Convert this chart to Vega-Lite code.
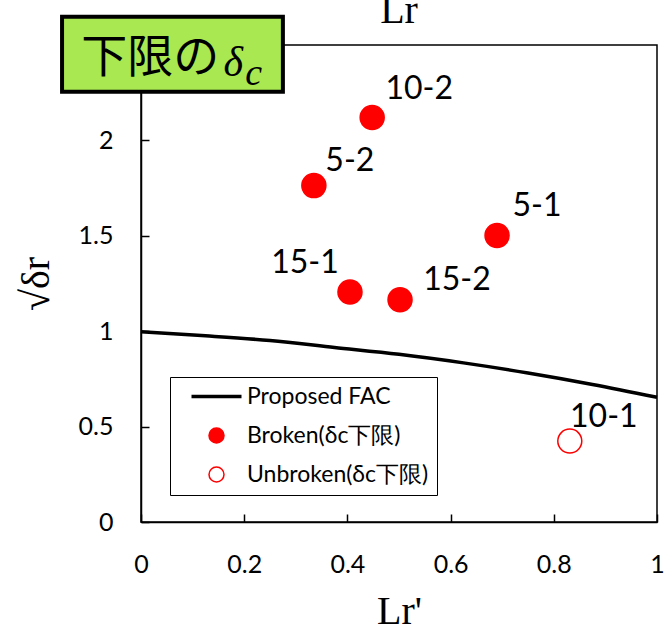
{
  "$schema": "https://vega.github.io/schema/vega-lite/v6.json",
  "width": 516,
  "height": 477,
  "autosize": {"type": "none"},
  "padding": {"left": 141, "top": 45, "right": 10, "bottom": 107},
  "background": "white",
  "title": {
    "text": "Lr",
    "font": "Liberation Serif",
    "fontSize": 40,
    "fontWeight": "normal",
    "color": "black",
    "anchor": "middle",
    "offset": -16
  },
  "config": {
    "view": {"stroke": "black", "strokeWidth": 1.5},
    "axis": {
      "domainColor": "black",
      "domainWidth": 1.5,
      "tickColor": "black",
      "tickWidth": 1.5,
      "tickSize": -8,
      "grid": false,
      "labelFont": "Lato",
      "labelFontSize": 25,
      "labelColor": "black",
      "labelFlush": false,
      "titleFont": "Liberation Serif",
      "titleFontSize": 40,
      "titleFontWeight": "normal",
      "titleColor": "black"
    },
    "legend": {
      "labelFont": "Lato",
      "labelFontSize": 23,
      "labelColor": "black",
      "labelLimit": 400
    }
  },
  "datasets": {
    "fac": [
      {"lr": 0.0, "kr": 0.997},
      {"lr": 0.125, "kr": 0.976},
      {"lr": 0.25, "kr": 0.951},
      {"lr": 0.375, "kr": 0.915},
      {"lr": 0.5, "kr": 0.879},
      {"lr": 0.625, "kr": 0.834},
      {"lr": 0.75, "kr": 0.781},
      {"lr": 0.875, "kr": 0.721},
      {"lr": 1.0, "kr": 0.654}
    ],
    "tests": [
      {"id": "10-2", "lr": 0.448, "kr": 2.12, "status": "Broken(δc下限)"},
      {"id": "5-2", "lr": 0.335, "kr": 1.763, "status": "Broken(δc下限)"},
      {"id": "5-1", "lr": 0.69, "kr": 1.502, "status": "Broken(δc下限)"},
      {"id": "15-1", "lr": 0.405, "kr": 1.206, "status": "Broken(δc下限)"},
      {"id": "15-2", "lr": 0.502, "kr": 1.165, "status": "Broken(δc下限)"},
      {"id": "10-1", "lr": 0.831, "kr": 0.424, "status": "Unbroken(δc下限)"}
    ]
  },
  "layer": [
    {
      "data": {"name": "fac"},
      "mark": {"type": "line", "strokeWidth": 3.5, "interpolate": "monotone"},
      "encoding": {
        "x": {
          "field": "lr", "type": "quantitative",
          "scale": {"domain": [0, 1], "nice": false},
          "axis": {"values": [0, 0.2, 0.4, 0.6, 0.8, 1], "title": "Lr'", "labelPadding": 38, "titlePadding": 14, "format": "~g"}
        },
        "y": {
          "field": "kr", "type": "quantitative",
          "scale": {"domain": [0, 2.5], "nice": false},
          "axis": {"values": [0, 0.5, 1, 1.5, 2], "title": "√δr", "labelPadding": 36, "titlePadding": 22, "format": "~g"}
        },
        "stroke": {
          "datum": "Proposed FAC",
          "scale": {
            "domain": ["Proposed FAC", "Broken(δc下限)", "Unbroken(δc下限)"],
            "range": ["black", "#ff0000", "#ff0000"]
          },
          "legend": {
            "title": null,
            "orient": "none",
            "legendX": 29,
            "legendY": 332,
            "padding": 8,
            "symbolOffset": 27,
            "rowPadding": 15,
            "labelOffset": 19,
            "strokeColor": "black",
            "fillColor": "white",
            "symbolSize": 2500,
            "encode": {
              "symbols": {
                "update": {
                  "shape": {"signal": "datum.value === 'Proposed FAC' ? 'stroke' : 'circle'"},
                  "size": {"signal": "datum.value === 'Proposed FAC' ? 2500 : 225"},
                  "fill": {"signal": "datum.value === 'Broken(δc下限)' ? '#ff0000' : datum.value === 'Unbroken(δc下限)' ? '#ffffff' : 'transparent'"},
                  "strokeWidth": {"signal": "datum.value === 'Proposed FAC' ? 3.5 : 1.5"}
                }
              }
            }
          }
        }
      }
    },
    {
      "data": {"name": "tests"},
      "mark": {"type": "point", "shape": "circle", "size": 576, "strokeWidth": 1.5, "opacity": 1},
      "encoding": {
        "x": {"field": "lr", "type": "quantitative"},
        "y": {"field": "kr", "type": "quantitative"},
        "stroke": {"field": "status", "type": "nominal", "legend": {"title": null}},
        "fill": {
          "field": "status", "type": "nominal",
          "scale": {"domain": ["Broken(δc下限)", "Unbroken(δc下限)"], "range": ["#ff0000", "#ffffff"]},
          "legend": null
        }
      }
    },
    {
      "data": {"name": "tests"},
      "transform": [{"filter": "datum.id === '10-2'"}],
      "mark": {"type": "text", "font": "Lato", "fontSize": 32, "color": "black", "dx": 47, "dy": -29},
      "encoding": {"x": {"field": "lr", "type": "quantitative"}, "y": {"field": "kr", "type": "quantitative"}, "text": {"field": "id"}}
    },
    {
      "data": {"name": "tests"},
      "transform": [{"filter": "datum.id === '5-2'"}],
      "mark": {"type": "text", "font": "Lato", "fontSize": 32, "color": "black", "dx": 36, "dy": -25},
      "encoding": {"x": {"field": "lr", "type": "quantitative"}, "y": {"field": "kr", "type": "quantitative"}, "text": {"field": "id"}}
    },
    {
      "data": {"name": "tests"},
      "transform": [{"filter": "datum.id === '5-1'"}],
      "mark": {"type": "text", "font": "Lato", "fontSize": 32, "color": "black", "dx": 40, "dy": -29},
      "encoding": {"x": {"field": "lr", "type": "quantitative"}, "y": {"field": "kr", "type": "quantitative"}, "text": {"field": "id"}}
    },
    {
      "data": {"name": "tests"},
      "transform": [{"filter": "datum.id === '15-1'"}],
      "mark": {"type": "text", "font": "Lato", "fontSize": 32, "color": "black", "dx": -45, "dy": -29},
      "encoding": {"x": {"field": "lr", "type": "quantitative"}, "y": {"field": "kr", "type": "quantitative"}, "text": {"field": "id"}}
    },
    {
      "data": {"name": "tests"},
      "transform": [{"filter": "datum.id === '15-2'"}],
      "mark": {"type": "text", "font": "Lato", "fontSize": 32, "color": "black", "dx": 57, "dy": -20},
      "encoding": {"x": {"field": "lr", "type": "quantitative"}, "y": {"field": "kr", "type": "quantitative"}, "text": {"field": "id"}}
    },
    {
      "data": {"name": "tests"},
      "transform": [{"filter": "datum.id === '10-1'"}],
      "mark": {"type": "text", "font": "Lato", "fontSize": 32, "color": "black", "dx": 34, "dy": -24},
      "encoding": {"x": {"field": "lr", "type": "quantitative"}, "y": {"field": "kr", "type": "quantitative"}, "text": {"field": "id"}}
    },
    {
      "data": {"values": [{"caption": "下限の"}]},
      "mark": {"type": "rect", "fill": "#a9e850", "stroke": "black", "strokeWidth": 4},
      "encoding": {
        "x": {"datum": -0.153},
        "x2": {"datum": 0.275},
        "y": {"datum": 2.648},
        "y2": {"datum": 2.255}
      }
    },
    {
      "data": {"values": [{"caption": "下限の"}]},
      "mark": {"type": "text", "font": "Noto Sans CJK JP", "fontSize": 46, "color": "black", "align": "left", "baseline": "alphabetic"},
      "encoding": {
        "x": {"datum": -0.116},
        "y": {"datum": 2.36},
        "text": {"field": "caption"}
      }
    },
    {
      "data": {"values": [{"caption": "δ"}]},
      "mark": {"type": "text", "font": "Liberation Serif", "fontSize": 42, "fontStyle": "italic", "color": "black", "align": "left", "baseline": "alphabetic"},
      "encoding": {
        "x": {"datum": 0.16},
        "y": {"datum": 2.338},
        "text": {"field": "caption"}
      }
    },
    {
      "data": {"values": [{"caption": "c"}]},
      "mark": {"type": "text", "font": "Liberation Serif", "fontSize": 38, "fontStyle": "italic", "color": "black", "align": "left", "baseline": "alphabetic"},
      "encoding": {
        "x": {"datum": 0.202},
        "y": {"datum": 2.29},
        "text": {"field": "caption"}
      }
    }
  ]
}
